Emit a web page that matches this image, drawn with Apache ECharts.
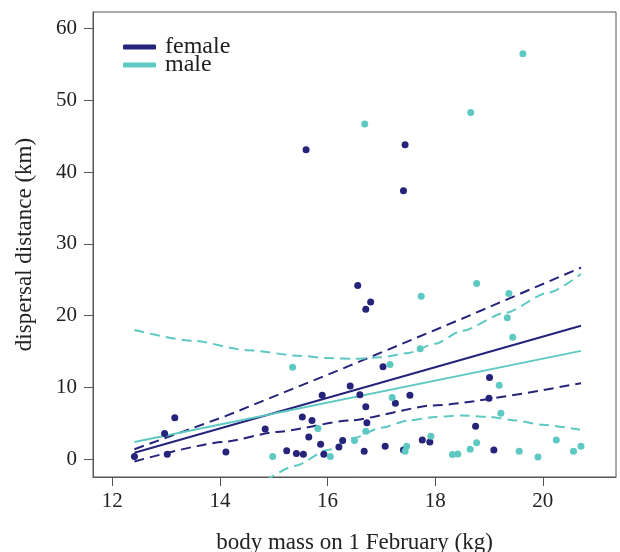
<!DOCTYPE html>
<html>
<head>
<meta charset="utf-8">
<script src="https://cdn.jsdelivr.net/npm/echarts@6/dist/echarts.min.js"></script>
<style>
  html, body { margin: 0; padding: 0; background: #fff; }
  #chart { width: 620px; height: 552px; }
</style>
</head>
<body>
<div id="chart"></div>
<script>
// points
var femaleMass = [15.60, 17.44, 17.41, 16.56, 16.80, 16.71, 12.41, 12.97, 13.16, 13.02,
  14.11, 14.84, 17.03, 16.42, 15.90, 16.60, 16.71, 17.26, 17.53, 15.53,
  15.71, 16.73, 15.65, 15.87, 16.28, 16.21, 15.24, 15.42, 15.55, 15.93,
  16.68, 17.07, 17.41, 19.01, 19.00, 18.75, 17.76, 17.90, 19.09]
var femaleDist = [43.1, 43.8, 37.4, 24.2, 21.9, 20.9, 0.4, 3.6, 5.8, 0.7,
  1.0, 4.2, 12.9, 10.2, 8.9, 9.0, 7.3, 7.8, 8.9, 5.9,
  5.4, 5.1, 3.1, 2.1, 2.6, 1.7, 1.2, 0.8, 0.7, 0.7,
  1.1, 1.8, 1.3, 11.4, 8.5, 4.6, 2.7, 2.4, 1.3]
var maleMass = [19.63, 18.66, 16.69, 17.74, 18.77, 19.37, 19.34, 19.44, 17.72, 15.35,
  17.16, 17.20, 15.82, 16.71, 16.50, 16.05, 17.47, 17.44, 14.98, 19.19,
  19.22, 17.92, 18.77, 18.65, 18.32, 18.42, 19.56, 19.91, 20.25, 20.57, 20.71]
var maleDist = [56.5, 48.3, 46.7, 22.7, 24.5, 23.1, 19.7, 17.0, 15.4, 12.8,
  13.2, 8.6, 4.3, 3.9, 2.6, 0.4, 1.8, 1.1, 0.4, 10.3,
  6.4, 3.2, 2.3, 1.4, 0.65, 0.74, 1.1, 0.3, 2.7, 1.1, 1.8]

// fitted lines and confidence bands
var femaleFitX = [12.41, 20.71]
var femaleFitY = [0.9, 18.6]
var maleFitX = [12.41, 20.71]
var maleFitY = [2.4, 15.1]
var femaleUpperX = [12.41, 14.1, 16.4, 18.6, 20.71]
var femaleUpperY = [1.4, 6.0, 13.0, 19.9, 26.7]
var femaleLowerX = [12.41, 14.06, 15.05, 16.41, 17.96, 20.71]
var femaleLowerY = [-0.3, 2.4, 3.8, 5.4, 7.5, 10.6]
var maleUpperX = [12.41, 13.5, 14.5, 15.5, 16.0, 16.5, 17.0, 17.5, 18.0, 18.5, 19.3, 20.1, 20.71]
var maleUpperY = [18.0, 16.5, 15.2, 14.4, 14.1, 14.0, 14.2, 14.8, 16.1, 17.9, 20.4, 23.2, 25.8]
var maleLowerX = [14.85, 15.4, 16.0, 16.5, 17.0, 17.5, 18.0, 18.5, 19.0, 19.5, 20.0, 20.69]
var maleLowerY = [-3.0, -0.9, 1.3, 3.0, 4.4, 5.4, 5.9, 6.1, 5.9, 5.4, 4.8, 4.1]

var xTicks = [12, 14, 16, 18, 20]
var yTicks = [0, 10, 20, 30, 40, 50, 60]

var dark = '#25237a'
var cyan = '#5ec9c2'
var serif = 'Liberation Serif'

function pairs(xs, ys) {
  return xs.map(function (x, i) { return [x, ys[i]] })
}

function band(name, xs, ys, color, smooth) {
  return {
    name: name,
    type: 'line',
    data: pairs(xs, ys),
    showSymbol: false,
    smooth: smooth,
    smoothMonotone: 'x',
    color: color,
    lineStyle: { color: color, width: 2, type: [10, 6] },
    silent: true,
    z: 2
  }
}

var chart = echarts.init(document.getElementById('chart'))

chart.setOption({
  animation: false,
  grid: {
    left: 93, right: 4, top: 12, bottom: 75,
    outerBoundsMode: 'none',
    show: true, borderColor: '#555', borderWidth: 1
  },
  legend: {
    data: ['female', 'male'],
    orient: 'vertical',
    left: 123, top: 35,
    padding: 0,
    itemGap: -6,
    itemWidth: 33, itemHeight: 5,
    icon: 'roundRect',
    textStyle: { fontFamily: serif, fontSize: 24, color: '#222', padding: [0, 0, 0, 4] }
  },
  xAxis: {
    type: 'value',
    min: 11.64, max: 21.36,
    name: 'body mass on 1 February (kg)',
    nameLocation: 'middle',
    nameGap: 54,
    nameTextStyle: { fontFamily: serif, fontSize: 23, color: '#222' },
    axisLine: { onZero: false, lineStyle: { color: '#555' } },
    axisTick: { show: true, inside: false, customValues: xTicks, length: 9, lineStyle: { color: '#555', width: 1 } },
    axisLabel: { customValues: xTicks, margin: 14, fontFamily: serif, fontSize: 21, color: '#222' },
    splitLine: { show: false }
  },
  yAxis: {
    type: 'value',
    min: -2.47, max: 62.3,
    name: 'dispersal distance (km)',
    nameLocation: 'middle',
    nameGap: 57,
    nameTextStyle: { fontFamily: serif, fontSize: 23, color: '#222' },
    axisLine: { show: true, onZero: false, lineStyle: { color: '#555' } },
    axisTick: { show: true, inside: false, customValues: yTicks, length: 9, lineStyle: { color: '#555', width: 1 } },
    axisLabel: { customValues: yTicks, margin: 16, fontFamily: serif, fontSize: 21, color: '#222' },
    splitLine: { show: false }
  },
  series: [
    band('female upper', femaleUpperX, femaleUpperY, dark, false),
    band('female lower', femaleLowerX, femaleLowerY, dark, 0.2),
    band('male upper', maleUpperX, maleUpperY, cyan, 0.25),
    band('male lower', maleLowerX, maleLowerY, cyan, 0.25),
    {
      name: 'female',
      type: 'line',
      data: pairs(femaleFitX, femaleFitY),
      showSymbol: false,
      color: dark,
      lineStyle: { color: dark, width: 2 },
      z: 3
    },
    {
      name: 'male',
      type: 'line',
      data: pairs(maleFitX, maleFitY),
      showSymbol: false,
      color: cyan,
      lineStyle: { color: cyan, width: 2 },
      z: 3
    },
    {
      name: 'female points',
      type: 'scatter',
      data: pairs(femaleMass, femaleDist),
      symbolSize: 7,
      itemStyle: { color: dark, opacity: 1 },
      z: 4
    },
    {
      name: 'male points',
      type: 'scatter',
      data: pairs(maleMass, maleDist),
      symbolSize: 7,
      itemStyle: { color: cyan, opacity: 1 },
      z: 4
    }
  ]
})
</script>
</body>
</html>
